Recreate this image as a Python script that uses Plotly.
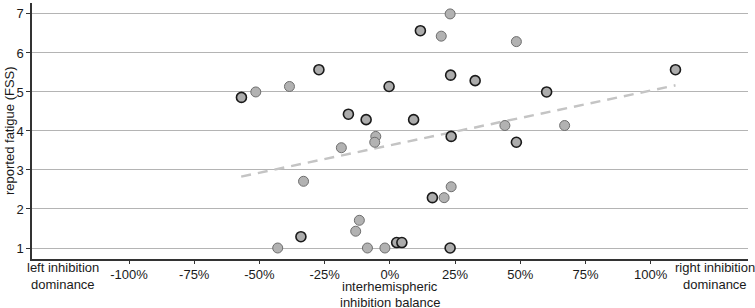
import plotly.graph_objects as go

# interhemispheric inhibition balance (%) and reported fatigue (FSS)
# group A: light outline
light_x = [-51.4, 23.1, 19.7, -38.5, 44.1, -5.4, -5.8, -18.6, -33.1, 23.5, 20.8,
           -11.7, -13.1, -43.0, -8.6, -1.9, 48.5, 67.0]
light_y = [5.00, 7.00, 6.43, 5.14, 4.14, 3.86, 3.71, 3.57, 2.71, 2.57, 2.29,
           1.71, 1.43, 1.00, 1.00, 1.00, 6.29, 4.14]
# group B: dark outline
dark_x = [-56.9, 11.7, -27.2, 23.3, 32.7, -0.3, -15.9, -9.1, 9.1, 23.5, 16.3,
          -34.1, 2.6, 4.6, 23.1, 109.5, 60.1, 48.5]
dark_y = [4.86, 6.57, 5.57, 5.43, 5.29, 5.14, 4.43, 4.29, 4.29, 3.86, 2.29,
          1.29, 1.14, 1.14, 1.00, 5.57, 5.00, 3.71]

# trend line end points
trend_x = [-57.0, 109.5]
trend_y = [2.83, 5.17]

x_tickvals = [-100, -75, -50, -25, 0, 25, 50, 75, 100]
x_ticktext = ["-100%", "-75%", "-50%", "-25%", "0%", "25%", "50%", "75%", "100%"]
y_tickvals = [1, 2, 3, 4, 5, 6, 7]

FONT = "Liberation Sans, Arial, sans-serif"
TXT = "#1a1a1a"

fig = go.Figure()
fig.add_trace(go.Scatter(
    x=trend_x, y=trend_y, mode="lines",
    line=dict(color="#c4c4c4", width=2.5, dash="10px,7px"),
    hoverinfo="skip", showlegend=False))
fig.add_trace(go.Scatter(
    x=light_x, y=light_y, mode="markers",
    marker=dict(size=10, color="#b2b2b2", line=dict(color="#6e6e6e", width=1)),
    showlegend=False))
fig.add_trace(go.Scatter(
    x=dark_x, y=dark_y, mode="markers",
    marker=dict(size=10, color="#acacac", line=dict(color="#1a1a1a", width=1.6)),
    showlegend=False))


def ann(text, x, shift, xref="paper", anchor="middle"):
    return dict(text=text, xref=xref, yref="paper", x=x, y=0,
                xanchor="center", yanchor=anchor, yshift=shift,
                showarrow=False, font=dict(size=13, color=TXT))


fig.update_layout(
    width=755, height=308,
    margin=dict(l=32, r=7, t=3, b=49),
    paper_bgcolor="white", plot_bgcolor="white",
    font=dict(family=FONT, size=13, color=TXT),
    xaxis=dict(
        range=[-137.2, 137.3], tickvals=x_tickvals, ticktext=x_ticktext,
        showgrid=False, zeroline=False, showline=True, linecolor="#333333",
        linewidth=1.5, ticks="outside", ticklen=3, tickcolor="#333333",
        tickfont=dict(size=13, color=TXT)),
    yaxis=dict(
        range=[0.718, 7.28], tickvals=y_tickvals,
        showgrid=True, gridcolor="#b4b4b4", gridwidth=1, zeroline=False,
        showline=True, linecolor="#333333", linewidth=1.5,
        ticks="outside", ticklen=4, tickcolor="#333333",
        tickfont=dict(size=13, color=TXT)),
    annotations=[
        dict(text="reported fatigue (FSS)", textangle=-90, xref="paper", yref="paper",
             x=-0.0321, y=0.5, xanchor="center", yanchor="middle", showarrow=False,
             font=dict(size=13, color=TXT)),
        ann("interhemispheric", 0.5, -27),
        ann("inhibition balance", 0.5, -43),
        ann("left inhibition", -125.2, -8, xref="x"),
        ann("dominance", -125.2, -25, xref="x"),
        ann("right inhibition", 124.8, -8, xref="x"),
        ann("dominance", 124.8, -25, xref="x"),
    ],
)

fig.write_html("out.html", config={"displayModeBar": False},
               post_script="document.body.style.margin='0';document.body.style.overflow='hidden';")
